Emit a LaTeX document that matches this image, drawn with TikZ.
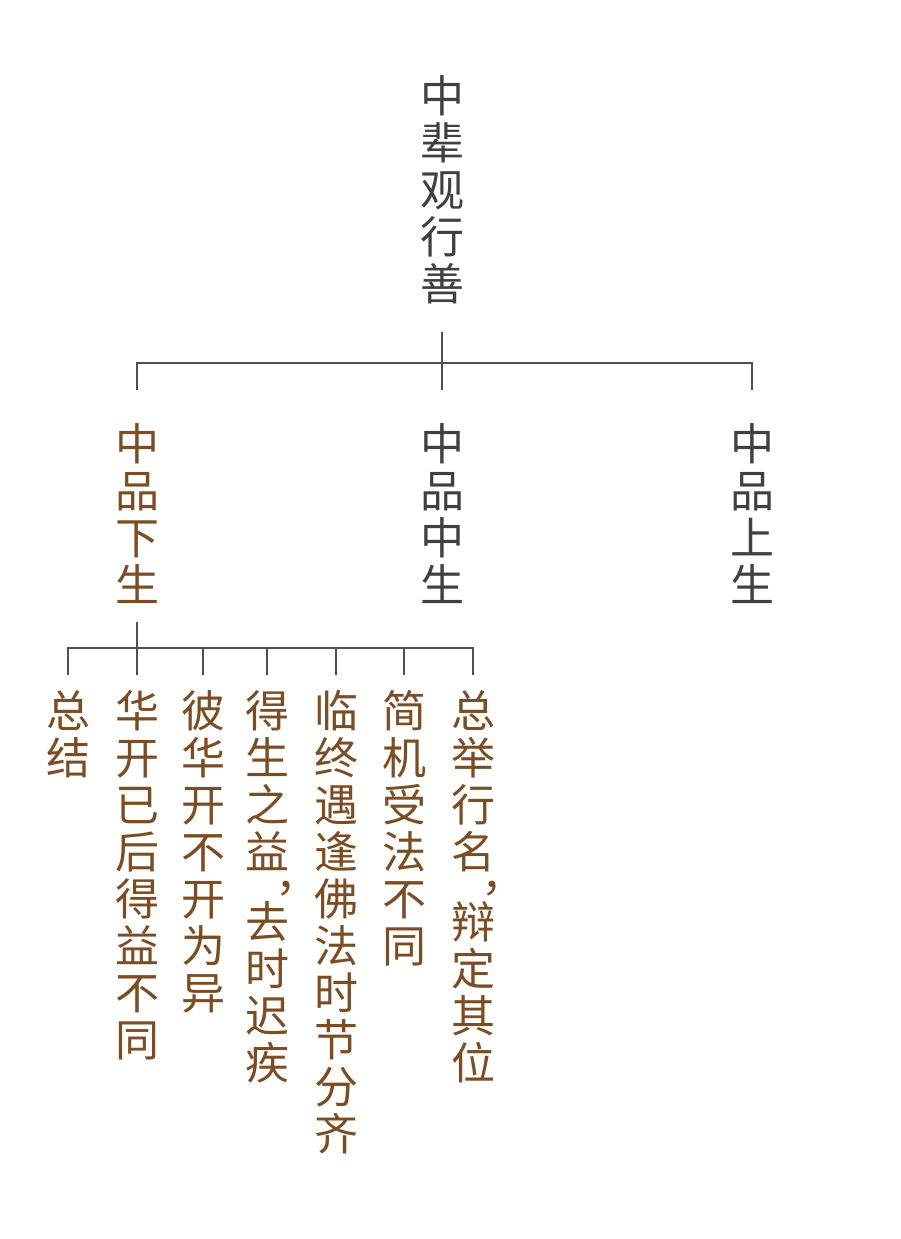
\documentclass[tikz,border=0pt]{standalone}
\usepackage{fontspec}
\usepackage{tikz}
\usetikzlibrary{positioning, calc}
\newfontfamily\cjk{Noto Sans CJK SC}
\definecolor{mygray}{RGB}{64,64,64}
\definecolor{mybrown}{RGB}{124,76,34}
\definecolor{myline}{RGB}{80,80,80}
\newcommand{\vcomma}{\\[-23.5pt]\makebox[1em][l]{\hspace*{0.7em}，}}
\tikzset{
  vtext/.style={inner sep=0pt, anchor=north, align=center,
    font=\cjk\fontsize{44}{47}\selectfont},
  graytext/.style={vtext, text=mygray},
  browntext/.style={vtext, text=mybrown},
  conn/.style={draw=myline, line width=1.4pt}
}

\begin{document}
\begin{tikzpicture}[x=1pt, y=-1pt]
  \useasboundingbox (0,0) rectangle (901,1239);

  % Title
  \node[graytext] (t) at (442,75) {中\\辈\\观\\行\\善};

  % Second level
  \node[browntext] (lo) at (137,423) {中\\品\\下\\生};
  \node[graytext] (mi) at (442,423) {中\\品\\中\\生};
  \node[graytext] (hi) at (752,423) {中\\品\\上\\生};

  % Leaves under the lower grade
  \node[browntext] (l1) at (68,690) {总\\结};
  \node[browntext] (l2) at (137,690) {华\\开\\已\\后\\得\\益\\不\\同};
  \node[browntext] (l3) at (203,690) {彼\\华\\开\\不\\开\\为\\异};
  \node[browntext] (l4) at (267,690) {得\\生\\之\\益\vcomma\\去\\时\\迟\\疾};
  \node[browntext] (l5) at (336,690) {临\\终\\遇\\逢\\佛\\法\\时\\节\\分\\齐};
  \node[browntext] (l6) at (404,690) {简\\机\\受\\法\\不\\同};
  \node[browntext] (l7) at (473,690) {总\\举\\行\\名\vcomma\\辩\\定\\其\\位};

  % Upper brackets
  \coordinate (ja) at (442,363);
  \draw[conn] ([yshift=-28pt]t.south) -- (ja);
  \draw[conn] ([yshift=33pt]lo.north) |- (ja) -| ([yshift=33pt]hi.north);
  \draw[conn] ([yshift=33pt]mi.north) -- (ja);

  % Lower brackets
  \coordinate (jb) at (137,648);
  \draw[conn] ([yshift=-19pt]lo.south) -- (jb);
  \draw[conn] ([yshift=15pt]l1.north) |- (jb) -| ([yshift=15pt]l7.north);
  \foreach \n in {l2,l3,l4,l5,l6}
    \draw[conn] ([yshift=15pt]\n.north) -- (\n.north |- jb);
\end{tikzpicture}
\end{document}
